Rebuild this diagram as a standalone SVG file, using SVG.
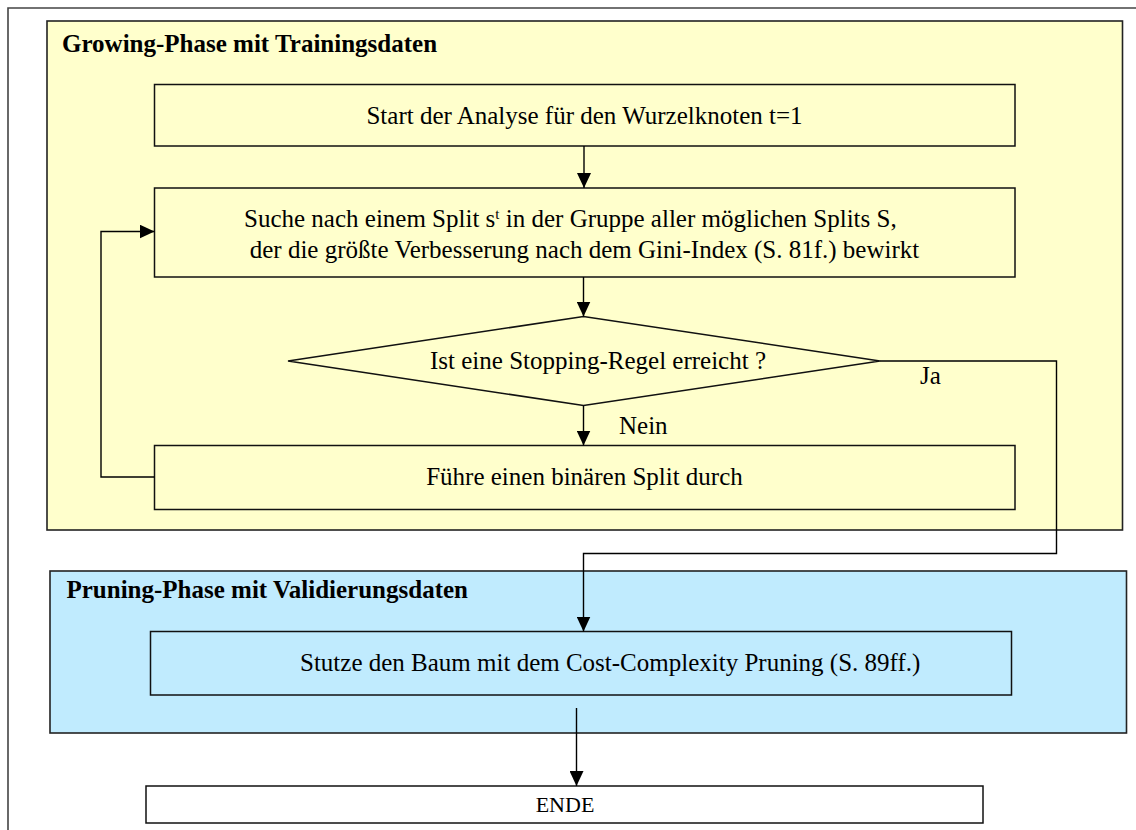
<svg xmlns="http://www.w3.org/2000/svg" width="1136" height="830" viewBox="0 0 1136 830">
  <defs>
    <style>
      .frame { fill: none; stroke: #444; stroke-width: 1.6; }
      .phase-grow { fill: #FFFFCC; stroke: #222; stroke-width: 1.6; }
      .phase-prune { fill: #C0EBFE; stroke: #222; stroke-width: 1.6; }
      .box { fill: none; stroke: #111; stroke-width: 1.5; }
      .box-white { fill: #FFFFFF; stroke: #111; stroke-width: 1.5; }
      .link { fill: none; stroke: #000; stroke-width: 1.4; }
      .title { font-family: "Liberation Serif", "Times New Roman", serif; font-weight: bold; font-size: 25px; fill: #000; }
      .label { font-family: "Liberation Serif", "Times New Roman", serif; font-size: 25px; fill: #000; }
      .small { font-size: 22px; }
      .mid { text-anchor: middle; }
    </style>
    <marker id="arrow" viewBox="0 0 15 14" refX="15" refY="7" markerWidth="15" markerHeight="14" markerUnits="userSpaceOnUse" orient="auto">
      <path d="M0,0 L15,7 L0,14 Z" fill="#000"/>
    </marker>
  </defs>

  <!-- page frame (top and left edges only) -->
  <path class="frame" d="M8,830 V8 H1136"/>

  <!-- phase containers -->
  <g id="growing-phase">
    <rect class="phase-grow" x="47" y="21" width="1075.5" height="509"/>
    <text class="title" x="62" y="52">Growing-Phase mit Trainingsdaten</text>
  </g>
  <g id="pruning-phase">
    <rect class="phase-prune" x="50" y="571" width="1076.5" height="162"/>
    <text class="title" x="66.5" y="598">Pruning-Phase mit Validierungsdaten</text>
  </g>

  <!-- steps -->
  <g id="start">
    <rect class="box" x="154.5" y="84.5" width="860.5" height="61.5"/>
    <text class="label mid" x="584.5" y="124">Start der Analyse für den Wurzelknoten t=1</text>
  </g>
  <g id="split-search">
    <rect class="box" x="154.5" y="188" width="860.5" height="89"/>
    <text class="label" x="244" y="227">Suche nach einem Split s<tspan font-size="15" baseline-shift="super">t</tspan> in der Gruppe aller möglichen Splits S,</text>
    <text class="label mid" x="584.5" y="258">der die größte Verbesserung nach dem Gini-Index (S. 81f.) bewirkt</text>
  </g>
  <g id="stop-check">
    <polygon class="box" points="288,361 583.5,316.5 880,361 583.5,405.5"/>
    <text class="label" x="430" y="369">Ist eine Stopping-Regel erreicht ?</text>
  </g>
  <g id="binary-split">
    <rect class="box" x="154.5" y="445.5" width="860.5" height="64"/>
    <text class="label mid" x="584.5" y="485">Führe einen binären Split durch</text>
  </g>
  <g id="prune">
    <rect class="box" x="150.5" y="631.5" width="861" height="63.5"/>
    <text class="label" x="300" y="671">Stutze den Baum mit dem Cost-Complexity Pruning (S. 89ff.)</text>
  </g>
  <g id="end">
    <rect class="box-white" x="146" y="786" width="837" height="37"/>
    <text class="label small mid" x="565" y="812">ENDE</text>
  </g>

  <!-- connectors -->
  <g id="connectors">
    <line class="link" x1="584" y1="146" x2="584" y2="188" marker-end="url(#arrow)"/>
    <line class="link" x1="583.5" y1="277" x2="583.5" y2="316.5" marker-end="url(#arrow)"/>
    <line class="link" x1="583.5" y1="405.5" x2="583.5" y2="445.5" marker-end="url(#arrow)"/>
    <polyline class="link" points="154.5,477 101,477 101,231.5 154.5,231.5" marker-end="url(#arrow)"/>
    <polyline class="link" points="880,361 1056.5,361 1056.5,553.5 583.5,553.5 583.5,631.5" marker-end="url(#arrow)"/>
    <line class="link" x1="576.5" y1="708" x2="576.5" y2="786" marker-end="url(#arrow)"/>
    <text class="label" x="619" y="434">Nein</text>
    <text class="label" x="920" y="384">Ja</text>
  </g>
</svg>
